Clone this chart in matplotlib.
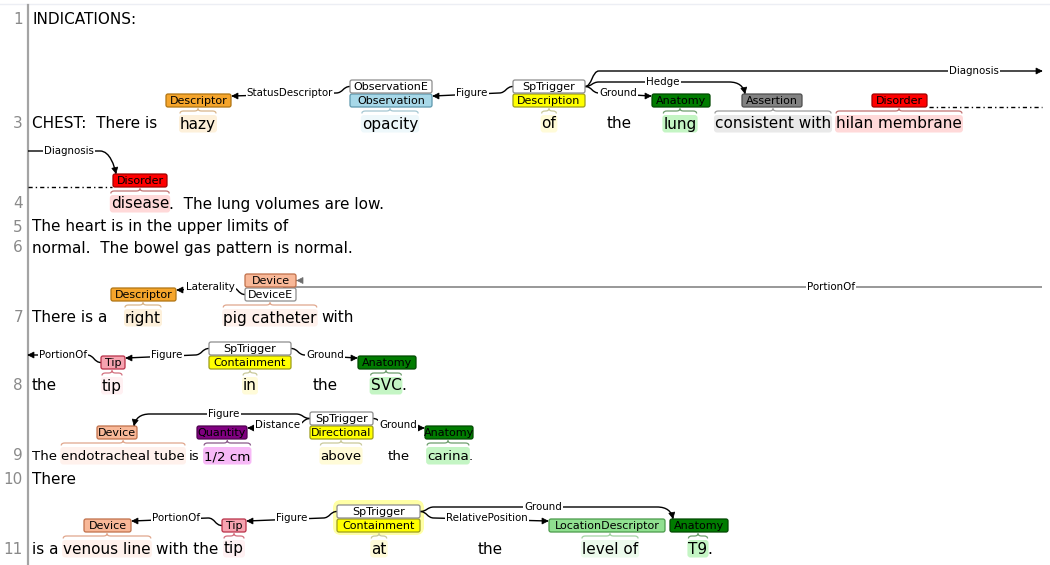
import matplotlib
matplotlib.use('Agg')
import matplotlib.pyplot as plt
from matplotlib.patches import FancyBboxPatch, PathPatch, Polygon
from matplotlib.path import Path
import numpy as np

W, H = 1050, 565

# ---------------- data ----------------
LINE_NUMBERS = ['1', '3', '4', '5', '6', '7', '8', '9', '10', '11']
LINE_Y = [20, 124, 204, 227, 248, 318, 386, 456, 479, 549]   # text centre of every visual line
LINE_SIZE = [11, 11, 11, 11, 11, 11, 11, 9.6, 11, 11]         # font size of every visual line

# tokens: (line index, x anchor | None = glued to previous | 'sp' = one space after previous,
#          text, anchor, span type)
TOKENS = [
    (0, 32, 'INDICATIONS:', 'left', None),
    (1, 32, 'CHEST:  There is', 'left', None),
    (1, 198, 'hazy', 'center', 'Descriptor'),
    (1, 390, 'opacity', 'center', 'Observation'),
    (1, 549, 'of', 'center', 'Description'),
    (1, 607, 'the', 'left', None),
    (1, 680, 'lung', 'center', 'Anatomy'),
    (1, 773, 'consistent with', 'center', 'Assertion'),
    (1, 899, 'hilan membrane', 'center', 'Disorder'),
    (2, 140, 'disease', 'center', 'Disorder'),
    (2, None, '.  The lung volumes are low.', 'left', None),
    (3, 32, 'The heart is in the upper limits of', 'left', None),
    (4, 32, 'normal.  The bowel gas pattern is normal.', 'left', None),
    (5, 32, 'There is a', 'left', None),
    (5, 143, 'right', 'center', 'Descriptor'),
    (5, 270, 'pig catheter', 'center', 'Device'),
    (5, 'sp', 'with', 'left', None),
    (6, 32, 'the', 'left', None),
    (6, 112, 'tip', 'center', 'Tip'),
    (6, 250, 'in', 'center', 'Description'),
    (6, 313, 'the', 'left', None),
    (6, 386, 'SVC', 'center', 'Anatomy'),
    (6, None, '.', 'left', None),
    (7, 32, 'The', 'left', None),
    (7, 'sp', 'endotracheal tube', 'left', 'Device'),
    (7, 'sp', 'is', 'left', None),
    (7, 'sp', '1/2 cm', 'left', 'Quantity'),
    (7, 341, 'above', 'center', 'Description'),
    (7, 388, 'the', 'left', None),
    (7, 448, 'carina', 'center', 'Anatomy'),
    (7, None, '.', 'left', None),
    (8, 32, 'There', 'left', None),
    (9, 32, 'is a', 'left', None),
    (9, 107, 'venous line', 'center', 'Device'),
    (9, 'sp', 'with the', 'left', None),
    (9, 234, 'tip', 'center', 'Tip'),
    (9, 379, 'at', 'center', 'Description'),
    (9, 478, 'the', 'left', None),
    (9, 610, 'level of', 'center', 'LocationDescriptor'),
    (9, 698, 'T9', 'center', 'Anatomy'),
    (9, None, '.', 'left', None),
]

# label boxes: (id, line index, x0, x1, row (0 = lower, 1 = upper), text, type)
LABELS = [
    ('d3', 1, 166, 231, 0, 'Descriptor', 'Descriptor'),
    ('o3', 1, 350, 432, 0, 'Observation', 'Observation'),
    ('oe3', 1, 350, 432, 1, 'ObservationE', 'Event'),
    ('ds3', 1, 513, 585, 0, 'Description', 'Description'),
    ('sp3', 1, 513, 585, 1, 'SpTrigger', 'Event'),
    ('an3', 1, 652, 710, 0, 'Anatomy', 'Anatomy'),
    ('as3', 1, 742, 802, 0, 'Assertion', 'Assertion'),
    ('di3', 1, 872, 927, 0, 'Disorder', 'Disorder'),
    ('di4', 2, 113, 167, 0, 'Disorder', 'Disorder'),
    ('d7', 5, 111, 176, 0, 'Descriptor', 'Descriptor'),
    ('de7', 5, 245, 296, 0, 'DeviceE', 'Event'),
    ('dv7', 5, 245, 296, 1, 'Device', 'Device'),
    ('tp8', 6, 101, 125, 0, 'Tip', 'Tip'),
    ('ct8', 6, 209, 291, 0, 'Containment', 'Description'),
    ('sp8', 6, 209, 291, 1, 'SpTrigger', 'Event'),
    ('an8', 6, 358, 416, 0, 'Anatomy', 'Anatomy'),
    ('dv9', 7, 97, 137, 0, 'Device', 'Device'),
    ('qt9', 7, 197, 247, 0, 'Quantity', 'Quantity'),
    ('dr9', 7, 310, 373, 0, 'Directional', 'Description'),
    ('sp9', 7, 310, 373, 1, 'SpTrigger', 'Event'),
    ('an9', 7, 425, 473, 0, 'Anatomy', 'Anatomy'),
    ('dv11', 9, 84, 131, 0, 'Device', 'Device'),
    ('tp11', 9, 222, 246, 0, 'Tip', 'Tip'),
    ('ct11', 9, 337, 420, 0, 'Containment', 'Description'),
    ('sp11', 9, 337, 420, 1, 'SpTrigger', 'Event'),
    ('lc11', 9, 549, 665, 0, 'LocationDescriptor', 'LocationDescriptor'),
    ('an11', 9, 670, 728, 0, 'Anatomy', 'Anatomy'),
]

# relations: (source, source side, target, target side, level, label, label x, colour)
ARCS = [
    ('oe3', 'L', 'd3', 'R', 0, 'StatusDescriptor', 290, 'black'),
    ('sp3', 'L', 'o3', 'R', 0, 'Figure', 472, 'black'),
    ('sp3', 'R', 'an3', 'L', 0, 'Ground', 618, 'black'),
    ('sp3', 'R', 'as3', 'TL', 1, 'Hedge', 663, 'black'),
    ('sp3', 'R', 'EDGE_R', 'E', 2, 'Diagnosis', 974, 'black'),
    ('EDGE_L', 'E', 'di4', 'TL', 2, 'Diagnosis', 69, 'black'),
    ('de7', 'L', 'd7', 'R', 0, 'Laterality', 210, 'black'),
    ('EDGE_R', 'E', 'dv7', 'R', 0, 'PortionOf', 831, '#6e6e6e'),
    ('tp8', 'L', 'EDGE_L', 'E', 0, 'PortionOf', 63, 'black'),
    ('sp8', 'L', 'tp8', 'R', 0, 'Figure', 167, 'black'),
    ('sp8', 'R', 'an8', 'L', 0, 'Ground', 325, 'black'),
    ('sp9', 'L', 'dv9', 'TR', 1, 'Figure', 224, 'black'),
    ('sp9', 'L', 'qt9', 'R', 0, 'Distance', 278, 'black'),
    ('sp9', 'R', 'an9', 'L', 0, 'Ground', 398, 'black'),
    ('tp11', 'L', 'dv11', 'R', 0, 'PortionOf', 176, 'black'),
    ('sp11', 'L', 'tp11', 'R', 0, 'Figure', 292, 'black'),
    ('sp11', 'R', 'lc11', 'L', 0, 'RelativePosition', 487, 'black'),
    ('sp11', 'R', 'an11', 'TL', 1, 'Ground', 543, 'black'),
]
ARC_LINES = {'EDGE_L': 28, 'EDGE_R': 1042}

# span continuation (dash-dot) markers: (line index, x0, x1)
CONTINUATIONS = [(1, 929, 1042), (2, 28, 112)]
# highlighted trigger
GLOWS = ['sp11']

STYLE = {
    'Descriptor': dict(fc='#f5a52c', ec='#b07412', hl='#fdf0da', br='#d8b58a'),
    'Observation': dict(fc='#a7d8e8', ec='#5f98ad', hl='#eef8fb', br='#a5c7d2'),
    'Event': dict(fc='#ffffff', ec='#8c8c8c', hl='#ffffff', br='#aaaaaa'),
    'Description': dict(fc='#ffff00', ec='#9c9c1c', hl='#fffbd8', br='#c9c99a'),
    'Anatomy': dict(fc='#007c00', ec='#004800', hl='#c4f5c4', br='#6f9f6f'),
    'Assertion': dict(fc='#828282', ec='#4e4e4e', hl='#e9e9e9', br='#9c9c9c'),
    'Disorder': dict(fc='#ff0000', ec='#a00000', hl='#ffd9d9', br='#c27474'),
    'Device': dict(fc='#f8b898', ec='#c0704a', hl='#fff1ec', br='#e0a68c'),
    'Tip': dict(fc='#f6a3b0', ec='#b83048', hl='#fff0f2', br='#d3707f'),
    'Quantity': dict(fc='#800080', ec='#4e004e', hl='#f7b9f7', br='#8a5a8a'),
    'LocationDescriptor': dict(fc='#90e090', ec='#4a9a4a', hl='#ecfbec', br='#a3d2a3'),
}

FONT = 'DejaVu Sans'
LABEL_SIZE = 8.0
ARC_SIZE = 7.4

# ---------------- drawing ----------------
plt.rcParams['font.family'] = [FONT]
fig = plt.figure(figsize=(W / 100, H / 100), dpi=100)
ax = fig.add_axes([0, 0, 1, 1])
ax.set_xlim(0, W)
ax.set_ylim(H, 0)
ax.axis('off')
renderer = fig.canvas.get_renderer()


def xext(t):
    bb = t.get_window_extent(renderer)
    return bb.x0, bb.x1


# frame
ax.plot([0, W], [4, 4], color='#eceef4', lw=1, zorder=0)
ax.plot([27.5, 27.5], [5, H], color='#a4a4a4', lw=1.6, zorder=1)

for num, yc, fs in zip(LINE_NUMBERS, LINE_Y, LINE_SIZE):
    ax.text(23, yc + 4.5, num, ha='right', va='baseline', fontsize=11,
            color='#8a8a8a', zorder=5)


def brace(x0, x1, yc, color):
    m = (x0 + x1) / 2
    yb, yt, yp = yc - 10.5, yc - 13, yc - 15.5
    r = min(3.5, (x1 - x0) / 4)
    verts = [(x0, yb), (x0, yt), (x0 + r, yt), (m - r, yt), (m, yt), (m, yp),
             (m, yt), (m + r, yt), (x1 - r, yt), (x1, yt), (x1, yb)]
    codes = [Path.MOVETO, Path.CURVE3, Path.CURVE3, Path.LINETO, Path.CURVE3, Path.CURVE3,
             Path.CURVE3, Path.CURVE3, Path.LINETO, Path.CURVE3, Path.CURVE3]
    ax.add_patch(PathPatch(Path(verts, codes), fc='none', ec=color, lw=0.9, zorder=3))


prev_end = 0
for li, x, txt, anchor, typ in TOKENS:
    yc = LINE_Y[li]
    fs = LINE_SIZE[li]
    if x is None:
        x = prev_end
    elif x == 'sp':
        x = prev_end + 0.318 * fs * 100 / 72
    t = ax.text(x, yc + 4.5, txt, ha=anchor, va='baseline', fontsize=fs,
                color='black', zorder=5)
    x0, x1 = xext(t)
    prev_end = x1
    if typ:
        st = STYLE[typ]
        ax.add_patch(FancyBboxPatch((x0 - 1, yc - 9), x1 - x0 + 2, 17.5,
                                    boxstyle='round,pad=0,rounding_size=3',
                                    fc=st['hl'], ec='none', zorder=2))
        brace(x0, x1, yc, st['br'])

boxes = {}
for bid, li, x0, x1, row, txt, typ in LABELS:
    yc = LINE_Y[li]
    top = yc - 30 if row == 0 else yc - 44
    boxes[bid] = dict(x0=x0, x1=x1, top=top, bot=top + 13, mid=top + 6.5, yc=yc, row=row)

for bid in GLOWS:
    b = boxes[bid]
    ax.add_patch(FancyBboxPatch((b['x0'] - 4, b['top'] - 5), b['x1'] - b['x0'] + 8, 35,
                                boxstyle='round,pad=0,rounding_size=8',
                                fc='#ffff88', ec='none', alpha=0.75, zorder=2))

for bid, li, x0, x1, row, txt, typ in LABELS:
    b = boxes[bid]
    st = STYLE[typ]
    ax.add_patch(FancyBboxPatch((x0, b['top']), x1 - x0, 13,
                                boxstyle='round,pad=0,rounding_size=2',
                                fc=st['fc'], ec=st['ec'], lw=0.9, zorder=4))
    ax.text((x0 + x1) / 2, b['top'] + 10.3, txt, ha='center', va='baseline',
            fontsize=LABEL_SIZE, color='black', zorder=5)

for li, x0, x1 in CONTINUATIONS:
    y = LINE_Y[li] - 17
    ax.plot([x0, x1], [y, y], color='black', lw=1, ls=(0, (3, 2.2, 1, 2.2)), zorder=3)


def arrowhead(tip, frm, color):
    tip = np.array(tip, float)
    u = tip - np.array(frm, float)
    u = u / np.hypot(*u)
    p = np.array([-u[1], u[0]])
    base = tip - 6 * u
    ax.add_patch(Polygon([tip, base + 3 * p, base - 3 * p], closed=True,
                         fc=color, ec=color, lw=0.5, zorder=4))


LEVEL_OFF = [31, 42, 53]
for src, sside, tgt, tside, lev, lab, lx, col in ARCS:
    ref = boxes[src] if src in boxes else boxes[tgt]
    ly = ref['yc'] - LEVEL_OFF[lev]
    # source point
    if src in boxes:
        b = boxes[src]
        sx = b['x0'] if sside == 'L' else b['x1']
        sy = b['mid']
    else:
        sx, sy = ARC_LINES[src], ly
    # target point
    if tgt in boxes:
        b = boxes[tgt]
        if tside == 'L':
            tx, ty = b['x0'] - 1, (b['top'] + 2 if b['row'] == 0 else b['mid'])
        elif tside == 'R':
            tx, ty = b['x1'] + 1, (b['top'] + 2 if b['row'] == 0 else b['mid'])
        elif tside == 'TL':
            tx, ty = b['x0'] + 3, b['top'] - 0.5
        else:
            tx, ty = b['x1'] - 3, b['top'] - 0.5
    else:
        tx, ty = ARC_LINES[tgt], ly
    d = 1 if tx > sx else -1
    verts, codes = [(sx, sy)], [Path.MOVETO]
    if abs(sy - ly) > 1:
        verts += [(sx + d * 7, sy), (sx + d * 7, ly), (sx + d * 14, ly)]
        codes += [Path.CURVE4] * 3
    if tside in ('TL', 'TR'):
        p2 = (tx - d * 16, ly)
        c2 = (tx - d * 1.5, ty - 7)
        verts += [p2, (tx - d * 6, ly), c2, (tx, ty)]
        codes += [Path.LINETO, Path.CURVE4, Path.CURVE4, Path.CURVE4]
        frm = c2
    elif abs(ty - ly) > 3:
        c2 = (tx + d * 7, ty)
        verts += [(tx + d * 14, ly), (tx + d * 7, ly), c2, (tx, ty)]
        codes += [Path.LINETO, Path.CURVE4, Path.CURVE4, Path.CURVE4]
        frm = (tx - d * 5, ty)
    else:
        verts += [(tx, ty)]
        codes += [Path.LINETO]
        frm = (tx - d * 6, ty)
    ax.add_patch(PathPatch(Path(verts, codes), fc='none', ec=col, lw=1.0, zorder=3))
    arrowhead((tx, ty), frm, col)
    ax.text(lx, ly + 3, lab, ha='center', va='baseline', fontsize=ARC_SIZE, color='black',
            zorder=5, bbox=dict(boxstyle='square,pad=0.12', fc='white', ec='none'))

fig.savefig('out.png', dpi=100, facecolor='white')
